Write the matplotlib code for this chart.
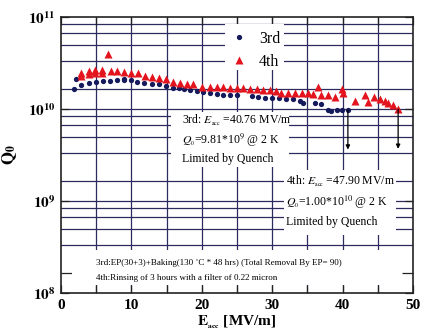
import matplotlib
matplotlib.use("Agg")
import matplotlib.pyplot as plt
from matplotlib.patches import Rectangle
import numpy as np

plt.rcParams['font.family'] = ['Liberation Serif', 'DejaVu Serif']
plt.rcParams['mathtext.fontset'] = 'stix'

# 3rd test (EP + baking)
e_3rd = [1.85, 2.1, 2.9, 4.0, 4.9, 5.9, 6.9, 7.9, 8.9, 9.0, 9.9, 10.8, 11.8,
         12.9, 13.9, 14.9, 15.9, 16.8, 17.4, 18.3, 19.3, 20.2, 21.2, 22.1,
         23.0, 24.0, 25.0, 27.1, 28.0, 29.0, 30.0, 31.0, 32.0, 33.0, 33.9,
         34.4, 36.1, 37.0, 38.0, 38.4, 39.2, 39.9, 40.76]
q_3rd = [1.64, 2.10, 1.82, 1.93, 1.98, 2.01, 2.01, 2.07, 2.13, 2.05, 2.05,
         1.98, 1.93, 1.88, 1.86, 1.78, 1.70, 1.68, 1.64, 1.60, 1.57, 1.53,
         1.50, 1.47, 1.44, 1.44, 1.44, 1.38, 1.35, 1.31, 1.31, 1.31, 1.29,
         1.30, 1.24, 1.17, 1.17, 1.14, 0.99, 0.95, 0.99, 0.99, 0.981]

# 4th test (rinsing)
e_4th = [2.8, 2.8, 3.9, 3.9, 4.8, 4.8, 5.8, 5.8, 6.7, 7.1, 8.0, 9.0, 9.9,
         11.0, 11.9, 12.9, 13.9, 14.9, 15.95, 16.9, 17.85, 18.8, 20.0, 21.2,
         22.1, 23.05, 24.0, 25.0, 25.9, 26.85, 27.8, 28.7, 29.7, 30.6, 31.3,
         32.3, 33.2, 34.2, 35.1, 35.8, 36.5, 37.0, 38.0, 38.9, 39.9, 40.1,
         41.8, 43.2, 43.65, 44.4, 45.3, 46.0, 46.5, 47.2, 47.9]
q_4th = [2.48, 2.28, 2.63, 2.40, 2.65, 2.45, 2.67, 2.50, 4.00, 2.63, 2.59,
         2.54, 2.50, 2.44, 2.32, 2.24, 2.19, 2.10, 1.98, 1.93, 1.88, 1.86,
         1.74, 1.75, 1.74, 1.74, 1.70, 1.70, 1.68, 1.64, 1.64, 1.60, 1.60,
         1.57, 1.50, 1.50, 1.50, 1.50, 1.48, 1.47, 1.74, 1.44, 1.44, 1.35,
         1.64, 1.50, 1.24, 1.41, 1.20, 1.35, 1.30, 1.22, 1.17, 1.12, 1.00]

quench_e = [40.76, 47.90]
quench_q = [9.81e9, 1.00e10]

q_3rd = np.array(q_3rd) * 1e10
q_4th = np.array(q_4th) * 1e10

fig = plt.figure(figsize=(4.27, 3.30), dpi=100)
ax = fig.add_axes([0.143, 0.112, 0.824, 0.836])
ax.set_yscale('log')
ax.set_xlim(0, 50)
ax.set_ylim(1e8, 1e11)

grid_c = '#2b2b5e'
for xv in range(5, 50, 5):
    ax.axvline(xv, color=grid_c, lw=0.9, zorder=1)
for dec in [1e8, 1e9, 1e10]:
    ks = [10/6, 20/6, 5, 40/6, 50/6] if dec > 1e8 else [20/6, 5, 40/6, 50/6]
    for k in ks:
        ax.axhline(dec * k, color=grid_c, lw=0.9, zorder=1)
ax.axhline(1e9, color=grid_c, lw=0.9, zorder=1)
ax.axhline(1e10, color=grid_c, lw=0.9, zorder=1)

# white boxes hiding the grid behind the texts (axes fraction)
boxes = [(0.032, 0.03, 0.9, 0.125),   # bottom note
         (0.312, 0.458, 0.335, 0.2),  # 3rd box
         (0.633, 0.21, 0.32, 0.235),  # 4th box
         (0.465, 0.81, 0.17, 0.165)]  # legend
for x0, y0, w, h in boxes:
    ax.add_patch(Rectangle((x0, y0), w, h, transform=ax.transAxes,
                           facecolor='white', edgecolor='none', zorder=2))

ax.plot(e_3rd, q_3rd, 'o', color='#141a5c', ms=3.8, mec='none', zorder=4, label='3rd')
ax.plot(e_4th, q_4th, '^', color='#e3141e', ms=6, mec='none', zorder=4, label='4th')

for e, q in zip(quench_e, quench_q):
    ax.annotate('', xy=(e, q * 0.37), xytext=(e, q),
                arrowprops=dict(arrowstyle='-|>', color='black', lw=0.9,
                                mutation_scale=6, shrinkA=0, shrinkB=0),
                zorder=5)

leg = ax.legend(loc='upper left', bbox_to_anchor=(0.445, 0.985), frameon=False,
                fontsize=11.5, handletextpad=0.5, labelspacing=0.45,
                borderaxespad=0.2, handlelength=1.5)

fs = 8.5
ax.text(0.345, 0.615, r'3rd: $\mathit{E}_{_{\mathrm{acc}}}$ =40.76 MV/m',
        transform=ax.transAxes, fontsize=fs, zorder=3)
ax.text(0.345, 0.54, r'$\mathit{Q}_{_0}$=9.81*10$^{9}$ @ 2 K',
        transform=ax.transAxes, fontsize=fs, zorder=3)
ax.text(0.345, 0.475, 'Limited by Quench',
        transform=ax.transAxes, fontsize=fs, zorder=3)
ax.text(0.64, 0.395, r'4th: $\mathit{E}_{_{\mathrm{acc}}}$ =47.90 MV/m',
        transform=ax.transAxes, fontsize=fs, zorder=3)
ax.text(0.64, 0.315, r'$\mathit{Q}_{_0}$=1.00*10$^{10}$ @ 2 K',
        transform=ax.transAxes, fontsize=fs, zorder=3)
ax.text(0.64, 0.245, 'Limited by Quench',
        transform=ax.transAxes, fontsize=fs, zorder=3)
ax.text(0.1, 0.1, '3rd:EP(30+3)+Baking(130 ˚C * 48 hrs) (Total Removal By EP= 90)',
        transform=ax.transAxes, fontsize=6.5, zorder=3)
ax.text(0.1, 0.048, '4th:Rinsing of 3 hours with a filter of 0.22 micron',
        transform=ax.transAxes, fontsize=6.5, zorder=3)

ax.set_xticks([0, 10, 20, 30, 40, 50])
ax.set_xticklabels(['0', '10', '20', '30', '40', '50'], fontweight='bold', fontsize=11)
ax.set_xticks([5, 15, 25, 35, 45], minor=True)
ax.set_yticks([1e8, 1e9, 1e10, 1e11])
ax.set_yticklabels([r'$\mathbf{10^{8}}$', r'$\mathbf{10^{9}}$',
                    r'$\mathbf{10^{10}}$', r'$\mathbf{10^{11}}$'], fontsize=11)
ax.yaxis.set_minor_locator(matplotlib.ticker.FixedLocator([1e8 * 10/6]))
ax.yaxis.set_minor_formatter(matplotlib.ticker.NullFormatter())
ax.tick_params(which='both', direction='in', top=True, right=True,
               length=6, width=0.9, color='#222222', pad=4)
ax.tick_params(axis='y', which='minor', length=8)
for s in ax.spines.values():
    s.set_linewidth(1.2)
    s.set_color('#222222')

ax.set_xlabel(r'$\mathbf{E}_{_{\mathbf{acc}}}$ [MV/m]', fontweight='bold',
              fontsize=11, labelpad=1)
ax.set_ylabel(r'$\mathbf{Q}_{\mathbf{0}}$', fontsize=12, labelpad=6)

fig.savefig('out.png', dpi=100)
